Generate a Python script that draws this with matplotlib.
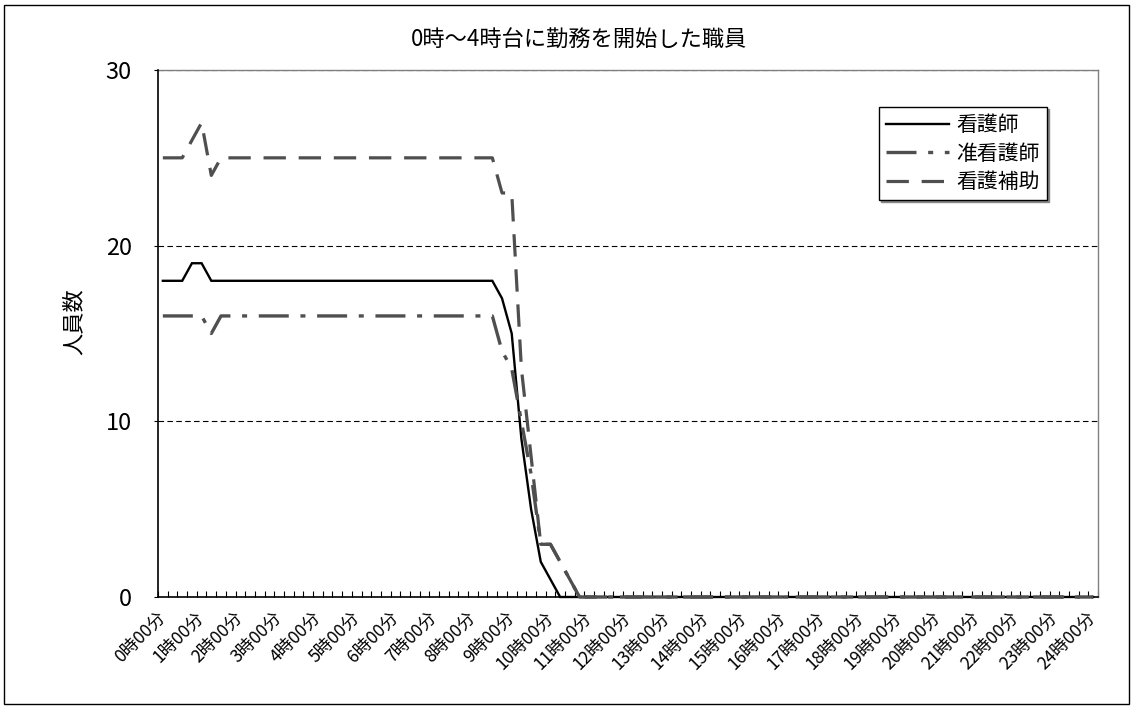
import matplotlib
matplotlib.use("Agg")
import matplotlib.pyplot as plt
import numpy as np
from matplotlib.patches import Rectangle

plt.rcParams['font.family'] = ['Noto Sans CJK JP', 'DejaVu Sans']

# ---- data (15-minute categories, 0:00 .. 24:00) ----
nurse = [18, 18, 18, 19, 19, 18, 18, 18, 18, 18, 18, 18, 18, 18, 18, 18,
         18, 18, 18, 18, 18, 18, 18, 18, 18, 18, 18, 18, 18, 18, 18, 18,
         18, 18, 18, 17, 15, 9, 5, 2, 1, 0, 0, 0, 0, 0, 0, 0,
         0, 0, 0, 0, 0, 0, 0, 0, 0, 0, 0, 0, 0, 0, 0, 0,
         0, 0, 0, 0, 0, 0, 0, 0, 0, 0, 0, 0, 0, 0, 0, 0,
         0, 0, 0, 0, 0, 0, 0, 0, 0, 0, 0, 0, 0, 0, 0, 0,
         0]
assoc_nurse = [16, 16, 16, 16, 16, 15, 16, 16, 16, 16, 16, 16, 16, 16, 16, 16,
               16, 16, 16, 16, 16, 16, 16, 16, 16, 16, 16, 16, 16, 16, 16, 16,
               16, 16, 16, 14, 13, 10, 7, 3, 3, 2, 1, 0, 0, 0, 0, 0,
               0, 0, 0, 0, 0, 0, 0, 0, 0, 0, 0, 0, 0, 0, 0, 0,
               0, 0, 0, 0, 0, 0, 0, 0, 0, 0, 0, 0, 0, 0, 0, 0,
               0, 0, 0, 0, 0, 0, 0, 0, 0, 0, 0, 0, 0, 0, 0, 0,
               0]
assistant = [25, 25, 25, 26, 27, 24, 25, 25, 25, 25, 25, 25, 25, 25, 25, 25,
             25, 25, 25, 25, 25, 25, 25, 25, 25, 25, 25, 25, 25, 25, 25, 25,
             25, 25, 25, 23, 23, 13, 8, 3, 3, 2, 1, 0, 0, 0, 0, 0,
             0, 0, 0, 0, 0, 0, 0, 0, 0, 0, 0, 0, 0, 0, 0, 0,
             0, 0, 0, 0, 0, 0, 0, 0, 0, 0, 0, 0, 0, 0, 0, 0,
             0, 0, 0, 0, 0, 0, 0, 0, 0, 0, 0, 0, 0, 0, 0, 0,
             0]
series_names = ['看護師', '准看護師', '看護補助']
hour_labels = ['0時00分', '1時00分', '2時00分', '3時00分', '4時00分', '5時00分',
               '6時00分', '7時00分', '8時00分', '9時00分', '10時00分', '11時00分',
               '12時00分', '13時00分', '14時00分', '15時00分', '16時00分', '17時00分',
               '18時00分', '19時00分', '20時00分', '21時00分', '22時00分', '23時00分',
               '24時00分']
y_ticks = [0, 10, 20, 30]
title = '0時～4時台に勤務を開始した職員'
ylabel = '人員数'

n_cat = len(nurse)
x = np.arange(n_cat)
cats_per_label = (n_cat - 1) // (len(hour_labels) - 1)

fig = plt.figure(figsize=(11.34, 7.08), dpi=100)
ax = fig.add_axes([158 / 1134, 1 - 597 / 708, 940 / 1134, 527 / 708])

gray = '#4f4f4f'
l1, = ax.plot(x, nurse, color='black', lw=1.7, solid_joinstyle='miter',
              clip_on=False, zorder=4)
l2, = ax.plot(x, assoc_nurse, color=gray, lw=2.4, dashes=(9, 3.5, 1.5, 3.5),
              clip_on=False, zorder=5)
l3, = ax.plot(x, assistant, color=gray, lw=2.3, dashes=(7, 4),
              clip_on=False, zorder=6)

ax.set_xlim(-0.5, n_cat - 0.5)
ax.set_ylim(0, 30)

# grid
for yv in y_ticks[1:]:
    ax.axhline(yv, color='black', lw=0.8, dashes=(5, 3), zorder=2)

# spines
for s in ['top', 'right']:
    ax.spines[s].set_color('#808080')
    ax.spines[s].set_linewidth(1.0)
for s in ['left', 'bottom']:
    ax.spines[s].set_color('black')
    ax.spines[s].set_linewidth(1.2)
    ax.spines[s].set_zorder(3)

ax.set_yticks(y_ticks)
ax.set_yticklabels([str(v) for v in y_ticks], fontsize=17)
ax.tick_params(axis='y', direction='out', length=3, width=0.8, pad=16)

hour_pos = x[::cats_per_label]
ax.set_xticks(hour_pos)
ax.set_xticklabels(hour_labels, fontsize=12.5, rotation=45, ha='right',
                   va='center', rotation_mode='anchor')
ax.tick_params(axis='x', which='major', length=0, pad=13)
ax.set_xticks(np.arange(n_cat + 1) - 0.5, minor=True)
ax.tick_params(axis='x', which='minor', direction='in', length=4, width=0.8)

fig.text(579 / 1134, 1 - 40 / 708, title, fontsize=16, ha='center', va='center')

fig.text(74 / 1134, 1 - 322 / 708, ylabel, fontsize=16, rotation=90,
         ha='center', va='center')

leg = ax.legend([l1, l2, l3], series_names, loc='upper left',
                bbox_to_anchor=((879 - 158) / 940, (597 - 107) / 527),
                borderaxespad=0, fontsize=15, handlelength=3.0,
                handletextpad=0.35, labelspacing=0.3, borderpad=0.35,
                frameon=True, fancybox=False,
                shadow={'ox': 1.5, 'oy': -1.5, 'color': '#888888', 'alpha': 1})
leg.get_frame().set_edgecolor('black')
leg.get_frame().set_linewidth(1.0)

fig.patches.append(Rectangle((4 / 1134, 4 / 708), 1 - 9 / 1134, 1 - 9 / 708,
                             transform=fig.transFigure, fill=False,
                             edgecolor='black', lw=1.0))

fig.savefig('out.png', dpi=100)
